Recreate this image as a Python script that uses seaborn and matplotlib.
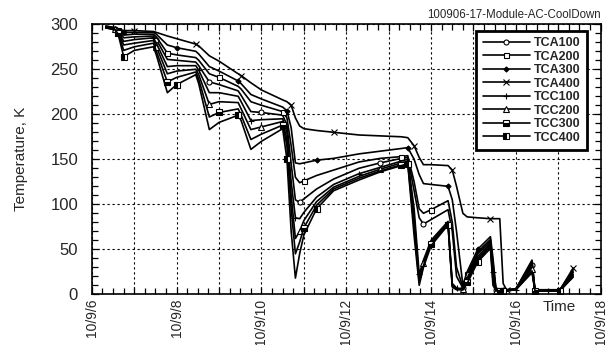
import matplotlib
matplotlib.use("Agg")
import matplotlib.pyplot as plt
import seaborn as sns
import pandas as pd
from matplotlib.ticker import MultipleLocator, FuncFormatter

# Time in days of September 2010
days = [6.33, 6.55, 6.62, 6.75, 7.00, 7.45, 7.52, 7.78, 8.00, 8.45, 8.52, 8.77,
        9.00, 9.45, 9.52, 9.75, 10.00, 10.50, 10.60, 10.70, 10.80, 10.90, 11.00,
        11.30, 11.70, 12.30, 12.80, 13.30, 13.45, 13.60, 13.72, 13.82, 14.00,
        14.40, 14.50, 14.60, 14.75, 14.85, 15.10, 15.40, 15.46, 15.53, 15.62,
        15.70, 15.78, 16.00, 16.38, 16.45, 17.04, 17.35]

TCA400 = [298, 296, 295, 293, 293, 292, 291, 287, 284, 278, 276, 265,
          259, 245, 243, 235, 227, 216, 214, 210, 196, 187, 184,
          182, 180, 177, 176, 175, 174, 165, 152, 144, 144,
          143, 138, 120, 90, 86, 85, 84, 84, 84, 84,
          12, 5, 6, 38, 5, 5, 29]
TCA300 = [298, 296, 295, 291, 291, 291, 289, 277, 274, 270, 267, 253,
          248, 237, 234, 222, 217, 208, 204, 185, 146, 145, 146,
          149, 151, 156, 159, 162, 163, 150, 133, 123, 122,
          120, 105, 70, 10, 25, 50, 64, 40, 6, 5,
          5, 5, 6, 36, 5, 5, 27]
TCA200 = [297, 296, 294, 288, 289, 289, 286, 268, 266, 263, 260, 245,
          241, 231, 228, 214, 210, 203, 196, 165, 130, 124, 126,
          132, 138, 147, 151, 153, 154, 125, 95, 90, 94,
          104, 80, 30, 8, 22, 47, 61, 35, 5, 5,
          5, 5, 6, 34, 4, 5, 25]
TCA100 = [297, 295, 293, 285, 286, 287, 283, 261, 260, 258, 254, 236,
          233, 226, 221, 203, 202, 199, 188, 145, 105, 102, 106,
          117, 128, 140, 146, 151, 152, 115, 85, 78, 83,
          94, 70, 20, 7, 20, 45, 59, 30, 5, 4,
          4, 4, 5, 32, 4, 4, 24]
TCC100 = [297, 295, 292, 281, 283, 285, 279, 253, 254, 254, 249, 224,
          224, 220, 214, 193, 194, 195, 180, 125, 85, 84, 91,
          108, 122, 134, 141, 148, 150, 95, 22, 38, 60,
          81, 12, 7, 6, 18, 42, 57, 25, 4, 4,
          4, 4, 5, 30, 4, 4, 22]
TCC200 = [296, 295, 291, 277, 279, 282, 275, 245, 248, 250, 244, 211,
          214, 213, 206, 183, 186, 192, 172, 110, 62, 70, 82,
          103, 119, 131, 139, 146, 148, 85, 16, 35, 58,
          79, 10, 6, 6, 16, 40, 55, 20, 4, 4,
          4, 4, 5, 28, 4, 4, 21]
TCC300 = [296, 294, 290, 271, 275, 279, 270, 236, 241, 247, 239, 197,
          202, 206, 199, 172, 178, 188, 165, 95, 45, 58, 74,
          99, 117, 129, 137, 144, 146, 75, 13, 32, 56,
          78, 9, 6, 5, 14, 38, 53, 15, 4, 4,
          4, 4, 5, 26, 4, 4, 20]
TCC400 = [296, 294, 289, 264, 271, 275, 266, 224, 233, 244, 234, 183,
          191, 199, 193, 161, 170, 184, 150, 70, 18, 45, 66,
          95, 115, 127, 136, 143, 145, 65, 10, 30, 54,
          77, 8, 5, 5, 12, 36, 51, 10, 4, 4,
          4, 4, 5, 24, 4, 4, 19]

series = {
    "TCA100": TCA100, "TCA200": TCA200, "TCA300": TCA300, "TCA400": TCA400,
    "TCC100": TCC100, "TCC200": TCC200, "TCC300": TCC300, "TCC400": TCC400,
}

styles = {
    "TCA100": dict(marker="o", markerfacecolor="white", markersize=3.6),
    "TCA200": dict(marker="s", markerfacecolor="white", markersize=3.6),
    "TCA300": dict(marker="D", markerfacecolor="black", markersize=2.6),
    "TCA400": dict(marker="x", markersize=4.5),
    "TCC100": dict(marker="+", markersize=5),
    "TCC200": dict(marker="^", markerfacecolor="white", markersize=3.8),
    "TCC300": dict(marker="s", fillstyle="bottom", markerfacecolor="black",
                   markerfacecoloralt="white", markersize=3.8),
    "TCC400": dict(marker="s", fillstyle="left", markerfacecolor="black",
                   markerfacecoloralt="white", markersize=3.8),
}

sns.set_style("ticks")
plt.rcParams["font.family"] = ["Liberation Sans", "DejaVu Sans"]

fig = plt.figure(figsize=(6.11, 3.45), dpi=100)
ax = fig.add_axes([0.1504, 0.147, 0.8327, 0.7826])

for k, (name, vals) in enumerate(series.items()):
    df = pd.DataFrame({"day": days, "temp": vals})
    sns.lineplot(data=df, x="day", y="temp", ax=ax, color="black", lw=1.2,
                 label=name, estimator=None, sort=False,
                 markevery=(k % 5 + 1, 5), markeredgecolor="black",
                 markeredgewidth=0.8, **styles[name])

ax.set_xlim(6, 18)
ax.set_ylim(0, 300)
ax.xaxis.set_major_locator(MultipleLocator(1))
ax.xaxis.set_minor_locator(MultipleLocator(0.25))
ax.xaxis.set_major_formatter(FuncFormatter(
    lambda v, p: f"10/9/{int(round(v))}" if int(round(v)) % 2 == 0 else ""))
ax.yaxis.set_major_locator(MultipleLocator(50))
ax.yaxis.set_minor_locator(MultipleLocator(10))

ax.tick_params(which="both", direction="in", top=True, right=True,
               color="black", width=0.9)
ax.tick_params(which="major", length=5)
ax.tick_params(which="minor", length=4)
ax.tick_params(axis="x", which="major", labelsize=10, labelrotation=90, pad=3)
ax.tick_params(axis="y", which="major", labelsize=12, pad=10)

for sp in ax.spines.values():
    sp.set_color("black")
    sp.set_linewidth(1.2)

ax.grid(True, which="major", color="black", lw=0.8, ls=(0, (2, 2.5)))

ax.set_ylabel("Temperature, K", fontsize=11)
ax.yaxis.set_label_coords(-0.126, 0.5)
ax.set_xlabel("Time", fontsize=11)
ax.xaxis.set_label_coords(0.918, -0.021)

ax.text(1.0, 1.034, "100906-17-Module-AC-CoolDown", transform=ax.transAxes,
        ha="right", va="center", fontsize=8.3)

leg = ax.legend(loc="upper right", bbox_to_anchor=(0.973, 0.975),
                borderaxespad=0, frameon=True, fancybox=False,
                edgecolor="black", framealpha=1,
                prop=dict(weight="bold", size=9), handlelength=3.8,
                handletextpad=0.3, labelspacing=0.12, borderpad=0.5)
leg.get_frame().set_linewidth(2)

fig.savefig("out.png", dpi=100)
